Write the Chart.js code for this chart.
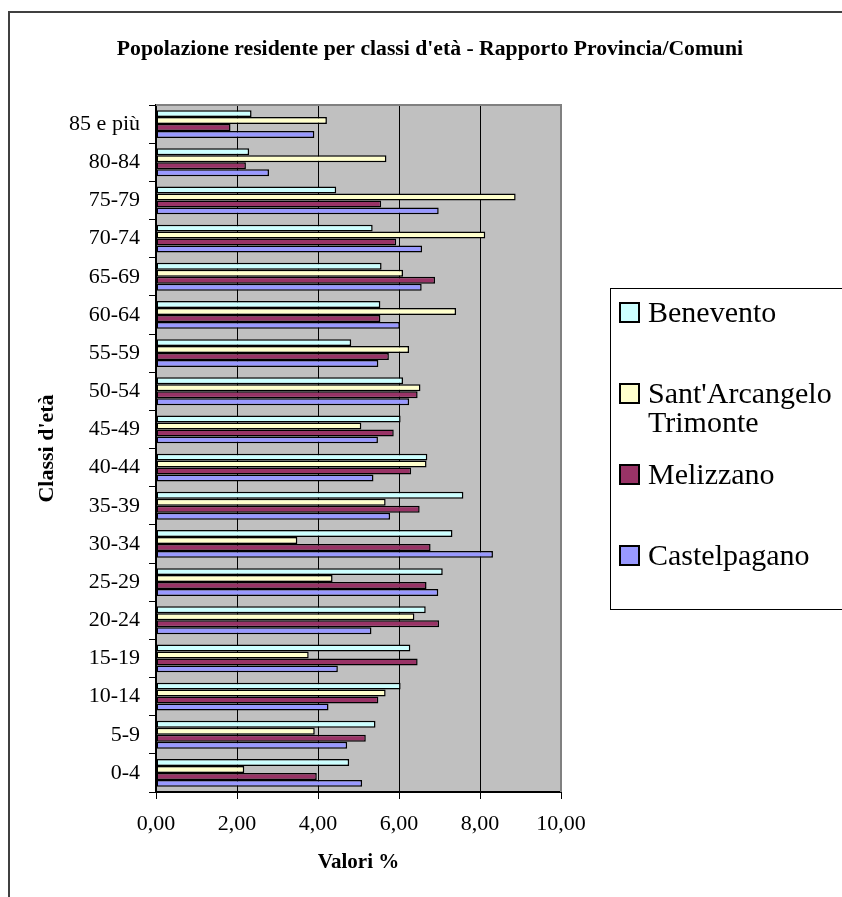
<!DOCTYPE html>
<html>
<head>
<meta charset="utf-8">
<script src="https://cdn.jsdelivr.net/npm/chart.js@4/dist/chart.umd.min.js"></script>
<style>
  html, body { margin: 0; padding: 0; background: #fff; }
  #wrap { width: 842px; height: 897px; position: relative; }
</style>
</head>
<body>
<div id="wrap"><canvas id="c" width="842" height="897"></canvas></div>
<script>
// Age classes, from youngest (bottom of the chart) to oldest (top)
const ageClasses = ['0-4', '5-9', '10-14', '15-19', '20-24', '25-29', '30-34', '35-39', '40-44',
                    '45-49', '50-54', '55-59', '60-64', '65-69', '70-74', '75-79', '80-84', '85 e più'];

// Share of resident population per age class (%)
const benevento     = [4.77, 5.42, 6.04, 6.28, 6.66, 7.08, 7.32, 7.59, 6.70, 6.04, 6.10, 4.82, 5.54, 5.57, 5.35, 4.45, 2.30, 2.36];
const santArcangelo = [2.18, 3.92, 5.67, 3.77, 6.38, 4.36, 3.49, 5.67, 6.68, 5.07, 6.53, 6.25, 7.41, 6.10, 8.13, 8.88, 5.69, 4.22];
const melizzano     = [3.97, 5.18, 5.49, 6.46, 6.99, 6.68, 6.78, 6.51, 6.30, 5.87, 6.46, 5.75, 5.54, 6.89, 5.93, 5.56, 2.22, 1.84];
const castelpagano  = [5.09, 4.72, 4.26, 4.49, 5.32, 6.97, 8.32, 5.78, 5.37, 5.48, 6.25, 5.49, 6.02, 6.56, 6.57, 6.98, 2.79, 3.91];

const seriesNames  = ['Benevento', "Sant'Arcangelo Trimonte", 'Melizzano', 'Castelpagano'];
const seriesValues = [benevento, santArcangelo, melizzano, castelpagano];
const seriesColors = ['#CCFFFF', '#FFFFCC', '#993366', '#9999FF'];

const xTickLabels = ['0,00', '2,00', '4,00', '6,00', '8,00', '10,00'];

const chartTitle = "Popolazione residente per classi d'età - Rapporto Provincia/Comuni";
const xTitle = 'Valori %';
const yTitle = "Classi d'età";

const SERIF = '"Liberation Serif", "Times New Roman", serif';

// Page frame, grey plot background, plot border, title and legend box
const decorations = {
  id: 'decorations',
  beforeDraw(chart) {
    const { ctx, chartArea: a } = chart;
    ctx.save();
    ctx.fillStyle = '#fff';
    ctx.fillRect(0, 0, chart.width, chart.height);
    // outer frame (continues past the right and bottom edges)
    ctx.strokeStyle = '#404040';
    ctx.lineWidth = 2;
    ctx.beginPath();
    ctx.moveTo(9, chart.height + 5);
    ctx.lineTo(9, 12);
    ctx.lineTo(chart.width + 5, 12);
    ctx.stroke();
    // plot area
    ctx.fillStyle = '#C0C0C0';
    ctx.fillRect(a.left, a.top, a.right - a.left, a.bottom - a.top);
    ctx.restore();
  },
  afterDatasetsDraw(chart) {
    const { ctx, chartArea: a } = chart;
    ctx.save();
    ctx.strokeStyle = '#808080';
    ctx.lineWidth = 2;
    ctx.beginPath();
    ctx.moveTo(a.left, a.top);
    ctx.lineTo(a.right, a.top);
    ctx.lineTo(a.right, a.bottom);
    ctx.stroke();
    ctx.restore();
  },
  afterDraw(chart) {
    const { ctx } = chart;
    ctx.save();
    // title
    ctx.fillStyle = '#000';
    ctx.font = 'bold 21.7px ' + SERIF;
    ctx.textAlign = 'center';
    ctx.textBaseline = 'middle';
    ctx.fillText(chartTitle, 430, 49);

    // legend
    ctx.strokeStyle = '#000';
    ctx.lineWidth = 1;
    ctx.strokeRect(610.5, 288.5, 260, 321);
    ctx.font = '30px ' + SERIF;
    ctx.textAlign = 'left';
    const textX = 648, maxW = 190;
    chart.data.datasets.forEach((ds, i) => {
      const top = 302 + 81 * i;
      ctx.fillStyle = '#000';
      ctx.fillRect(619, top, 21, 21);
      ctx.fillStyle = ds.backgroundColor;
      ctx.fillRect(621, top + 2, 17, 17);
      // wrap the label on word boundaries
      const words = ds.label.split(' ');
      const lines = [];
      let line = '';
      words.forEach(w => {
        const t = line ? line + ' ' + w : w;
        if (line && ctx.measureText(t).width > maxW) { lines.push(line); line = w; }
        else line = t;
      });
      lines.push(line);
      ctx.fillStyle = '#000';
      lines.forEach((l, k) => ctx.fillText(l, textX, top + 12 + k * 29));
    });
    ctx.restore();
  }
};

new Chart(document.getElementById('c'), {
  type: 'bar',
  data: {
    labels: ageClasses,
    datasets: seriesNames.map((name, i) => ({
      label: name,
      data: seriesValues[i],
      backgroundColor: seriesColors[i],
      borderColor: '#000',
      borderWidth: 1.5,
      borderSkipped: false,
      categoryPercentage: 0.73,
      barPercentage: 1
    }))
  },
  options: {
    indexAxis: 'y',
    responsive: false,
    animation: false,
    devicePixelRatio: 1,
    layout: { padding: { top: 105, right: 281, bottom: 0, left: 8 } },
    plugins: {
      legend: { display: false },
      tooltip: { enabled: false },
      title: { display: false }
    },
    scales: {
      x: {
        min: 0,
        max: 10,
        ticks: {
          stepSize: 2,
          maxRotation: 0,
          padding: 12,
          color: '#000',
          font: { family: SERIF, size: 22 },
          callback: (v) => xTickLabels[Math.round(v / 2)]
        },
        grid: {
          drawOnChartArea: true,
          color: (c) => (c.tick && (c.tick.value === 0 || c.tick.value === 10)) ? 'rgba(0,0,0,0)' : '#000',
          lineWidth: 1,
          tickColor: '#000',
          tickWidth: 1,
          tickLength: 7
        },
        border: { display: true, color: '#000', width: 2 },
        title: {
          display: true,
          text: xTitle,
          color: '#000',
          font: { family: SERIF, size: 21, weight: 'bold' },
          padding: { top: 0, bottom: 22 }
        },
        afterFit: (s) => { s.height = 105; }
      },
      y: {
        reverse: true,
        ticks: {
          padding: 9,
          color: '#000',
          font: { family: SERIF, size: 22 }
        },
        grid: {
          drawOnChartArea: false,
          offset: true,
          color: '#000',
          tickLength: 7,
          lineWidth: 1
        },
        border: { display: true, color: '#000', width: 2 },
        title: {
          display: true,
          text: yTitle,
          color: '#000',
          font: { family: SERIF, size: 22, weight: 'bold' },
          padding: { top: 26, bottom: 0 }
        },
        afterFit: (s) => { s.width = 148; }
      }
    }
  },
  plugins: [decorations]
});
</script>
</body>
</html>
